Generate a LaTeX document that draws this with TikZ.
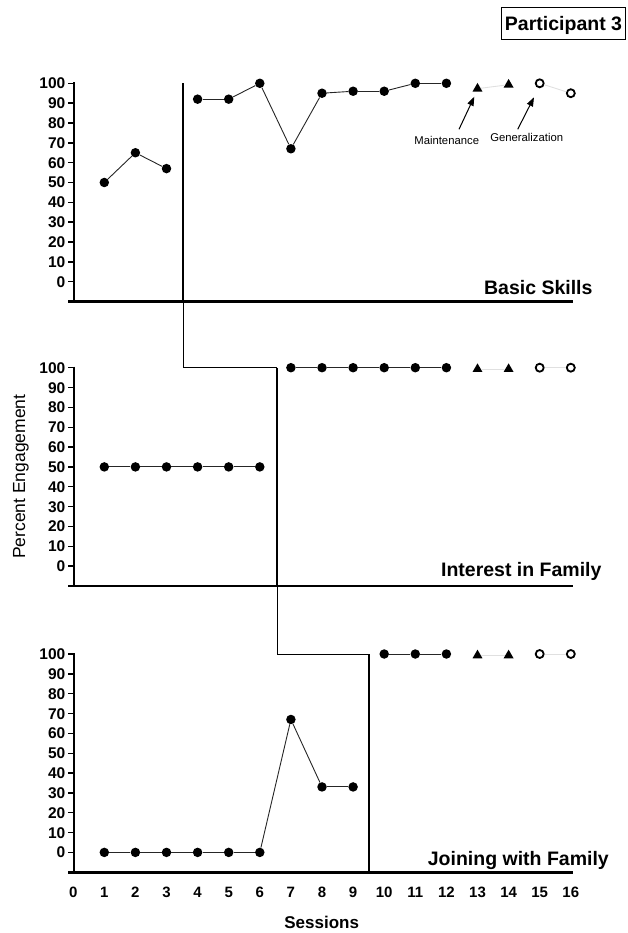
\documentclass[tikz,border=0pt]{standalone}
\usepackage{fontspec}
\setmainfont{Liberation Sans}
\usetikzlibrary{shapes.geometric,arrows.meta}
\begin{document}
\begin{tikzpicture}[x=1pt,y=-1pt,
  dot/.style={circle,fill=black,inner sep=0pt,minimum size=9.5pt},
  tri/.style={regular polygon,regular polygon sides=3,fill=black,inner sep=0pt,minimum size=11.5pt,yshift=-1.4pt},
  ring/.style={circle,draw=black,line width=1.8pt,fill=white,inner sep=0pt,minimum size=8pt},
  dline/.style={line width=0.9pt,black!85},
  gline/.style={line width=0.9pt,black!12},
  yaxis/.style={line width=2pt},
  baseaxis/.style={line width=2.6pt},
  phase/.style={line width=1.8pt},
  link/.style={line width=0.9pt},
  ytick/.style={line width=1.4pt},
  ticklab/.style={font=\fontsize{15.5}{16}\selectfont\bfseries,inner sep=0pt,anchor=base east},
  xlab/.style={font=\fontsize{15}{16}\selectfont\bfseries,inner sep=0pt,anchor=base},
  ptitle/.style={font=\fontsize{19.5}{20}\selectfont\bfseries,inner sep=0pt,anchor=base east},
  note/.style={font=\fontsize{11.3}{12}\selectfont,inner sep=0pt,anchor=base},
  arr/.style={line width=1pt,-{Triangle[length=9pt,width=6.5pt]}},
]
\useasboundingbox (0,0) rectangle (627,933);

% axes
\foreach \Y/\p in {83.3/1,367.7/2,654/3} {
  \draw[yaxis] (74,\Y-1) -- (74,\Y+218.2);
  \foreach \v in {0,10,...,100} {
    \draw[ytick] (68,{\Y+(100-\v)*1.984}) -- (74,{\Y+(100-\v)*1.984});
    \node[ticklab] (t\p-\v) at (65.5,{\Y+(100-\v)*1.984+5.5}) {\v};
  }
  \draw[baseaxis] (68,\Y+218.2) -- (573,\Y+218.2);
}

% phase change lines
\coordinate (c1t) at (183,83.3);
\coordinate (c1b) at (183,301.5);
\coordinate (c1j) at (183,367.7);
\coordinate (c2t) at (277,367.7);
\coordinate (c2b) at (277,585.9);
\coordinate (c2j) at (277,654);
\coordinate (c3t) at (369,654);
\coordinate (c3b) at (369,872.2);
\draw[phase] (c1t) -- (c1b);
\draw[link] (c1b) -- (c1j) -- (c2t);
\draw[phase] (c2t) -- (c2b);
\draw[link] (c2b) -- (c2j) -- (c3t);
\draw[phase] (c3t) -- (c3b);

% panel 1
\def\Ya{83.3}
\foreach \s/\v in {1/50,2/65,3/57,4/92,5/92,6/100,7/67,8/95,9/96,10/96,11/100,12/100}
  \node[dot] (a\s) at ({73.2+31.1*\s},{\Ya+(100-\v)*1.984}) {};
\node[tri] (a13) at ({73.2+31.1*13},{\Ya+(100-98)*1.984}) {};
\node[tri] (a14) at ({73.2+31.1*14},{\Ya}) {};
\node[ring] (a15) at ({73.2+31.1*15},{\Ya}) {};
\node[ring] (a16) at ({73.2+31.1*16},{\Ya+(100-95)*1.984}) {};
\draw[dline] (a1) -- (a2) -- (a3);
\foreach \i/\j in {4/5,5/6,6/7,7/8,8/9,9/10,10/11,11/12} \draw[dline] (a\i) -- (a\j);
\draw[gline] (a13) -- (a14);
\draw[gline] (a15) -- (a16);

% panel 2
\def\Yb{367.7}
\foreach \s/\v in {1/50,2/50,3/50,4/50,5/50,6/50,7/100,8/100,9/100,10/100,11/100,12/100}
  \node[dot] (b\s) at ({73.2+31.1*\s},{\Yb+(100-\v)*1.984}) {};
\node[tri] (b13) at ({73.2+31.1*13},{\Yb}) {};
\node[tri] (b14) at ({73.2+31.1*14},{\Yb}) {};
\node[ring] (b15) at ({73.2+31.1*15},{\Yb}) {};
\node[ring] (b16) at ({73.2+31.1*16},{\Yb}) {};
\foreach \i/\j in {1/2,2/3,3/4,4/5,5/6,7/8,8/9,9/10,10/11,11/12} \draw[dline] (b\i) -- (b\j);
\draw[gline] (b13) -- (b14);
\draw[gline] (b15) -- (b16);

% panel 3
\def\Yc{654}
\foreach \s/\v in {1/0,2/0,3/0,4/0,5/0,6/0,7/67,8/33,9/33,10/100,11/100,12/100}
  \node[dot] (d\s) at ({73.2+31.1*\s},{\Yc+(100-\v)*1.984}) {};
\node[tri] (d13) at ({73.2+31.1*13},{\Yc}) {};
\node[tri] (d14) at ({73.2+31.1*14},{\Yc}) {};
\node[ring] (d15) at ({73.2+31.1*15},{\Yc}) {};
\node[ring] (d16) at ({73.2+31.1*16},{\Yc}) {};
\foreach \i/\j in {1/2,2/3,3/4,4/5,5/6,6/7,7/8,8/9,10/11,11/12} \draw[dline] (d\i) -- (d\j);
\draw[gline] (d13) -- (d14);
\draw[gline] (d15) -- (d16);

% x tick labels
\foreach \s in {0,...,16}
  \node[xlab] (x\s) at ({73.2+31.1*\s},897.2) {\s};
\node[font=\fontsize{17}{18}\selectfont\bfseries,inner sep=0pt,anchor=base] (sess) at (321.7,928) {Sessions};
\node[font=\fontsize{17.5}{18}\selectfont,rotate=90,inner sep=0pt,anchor=base] (pe) at (25,476.7) {Percent Engagement};

% panel titles
\node[ptitle] (ttl1) at (592.7,294.3) {Basic Skills};
\node[ptitle] (ttl2) at (601.7,576.3) {Interest in Family};
\node[ptitle] (ttl3) at (609,865.7) {Joining with Family};

% participant box
\node[draw=black,line width=1pt,minimum width=124pt,minimum height=32pt,inner sep=0pt,
      text height=14pt,text depth=0pt,font=\fontsize{19.5}{20}\selectfont\bfseries] (part) at (563.5,24) {Participant 3};

% annotations
\node[note] (mnt) at (446.7,145) {Maintenance};
\node[note] (gen) at (526.7,142) {Generalization};
\coordinate (m0) at (459,129.3);
\coordinate (m1) at (474.3,96.7);
\coordinate (g0) at (517.7,129.3);
\coordinate (g1) at (534,97.3);
\draw[arr] (m0) -- (m1);
\draw[arr] (g0) -- (g1);
\end{tikzpicture}
\end{document}
